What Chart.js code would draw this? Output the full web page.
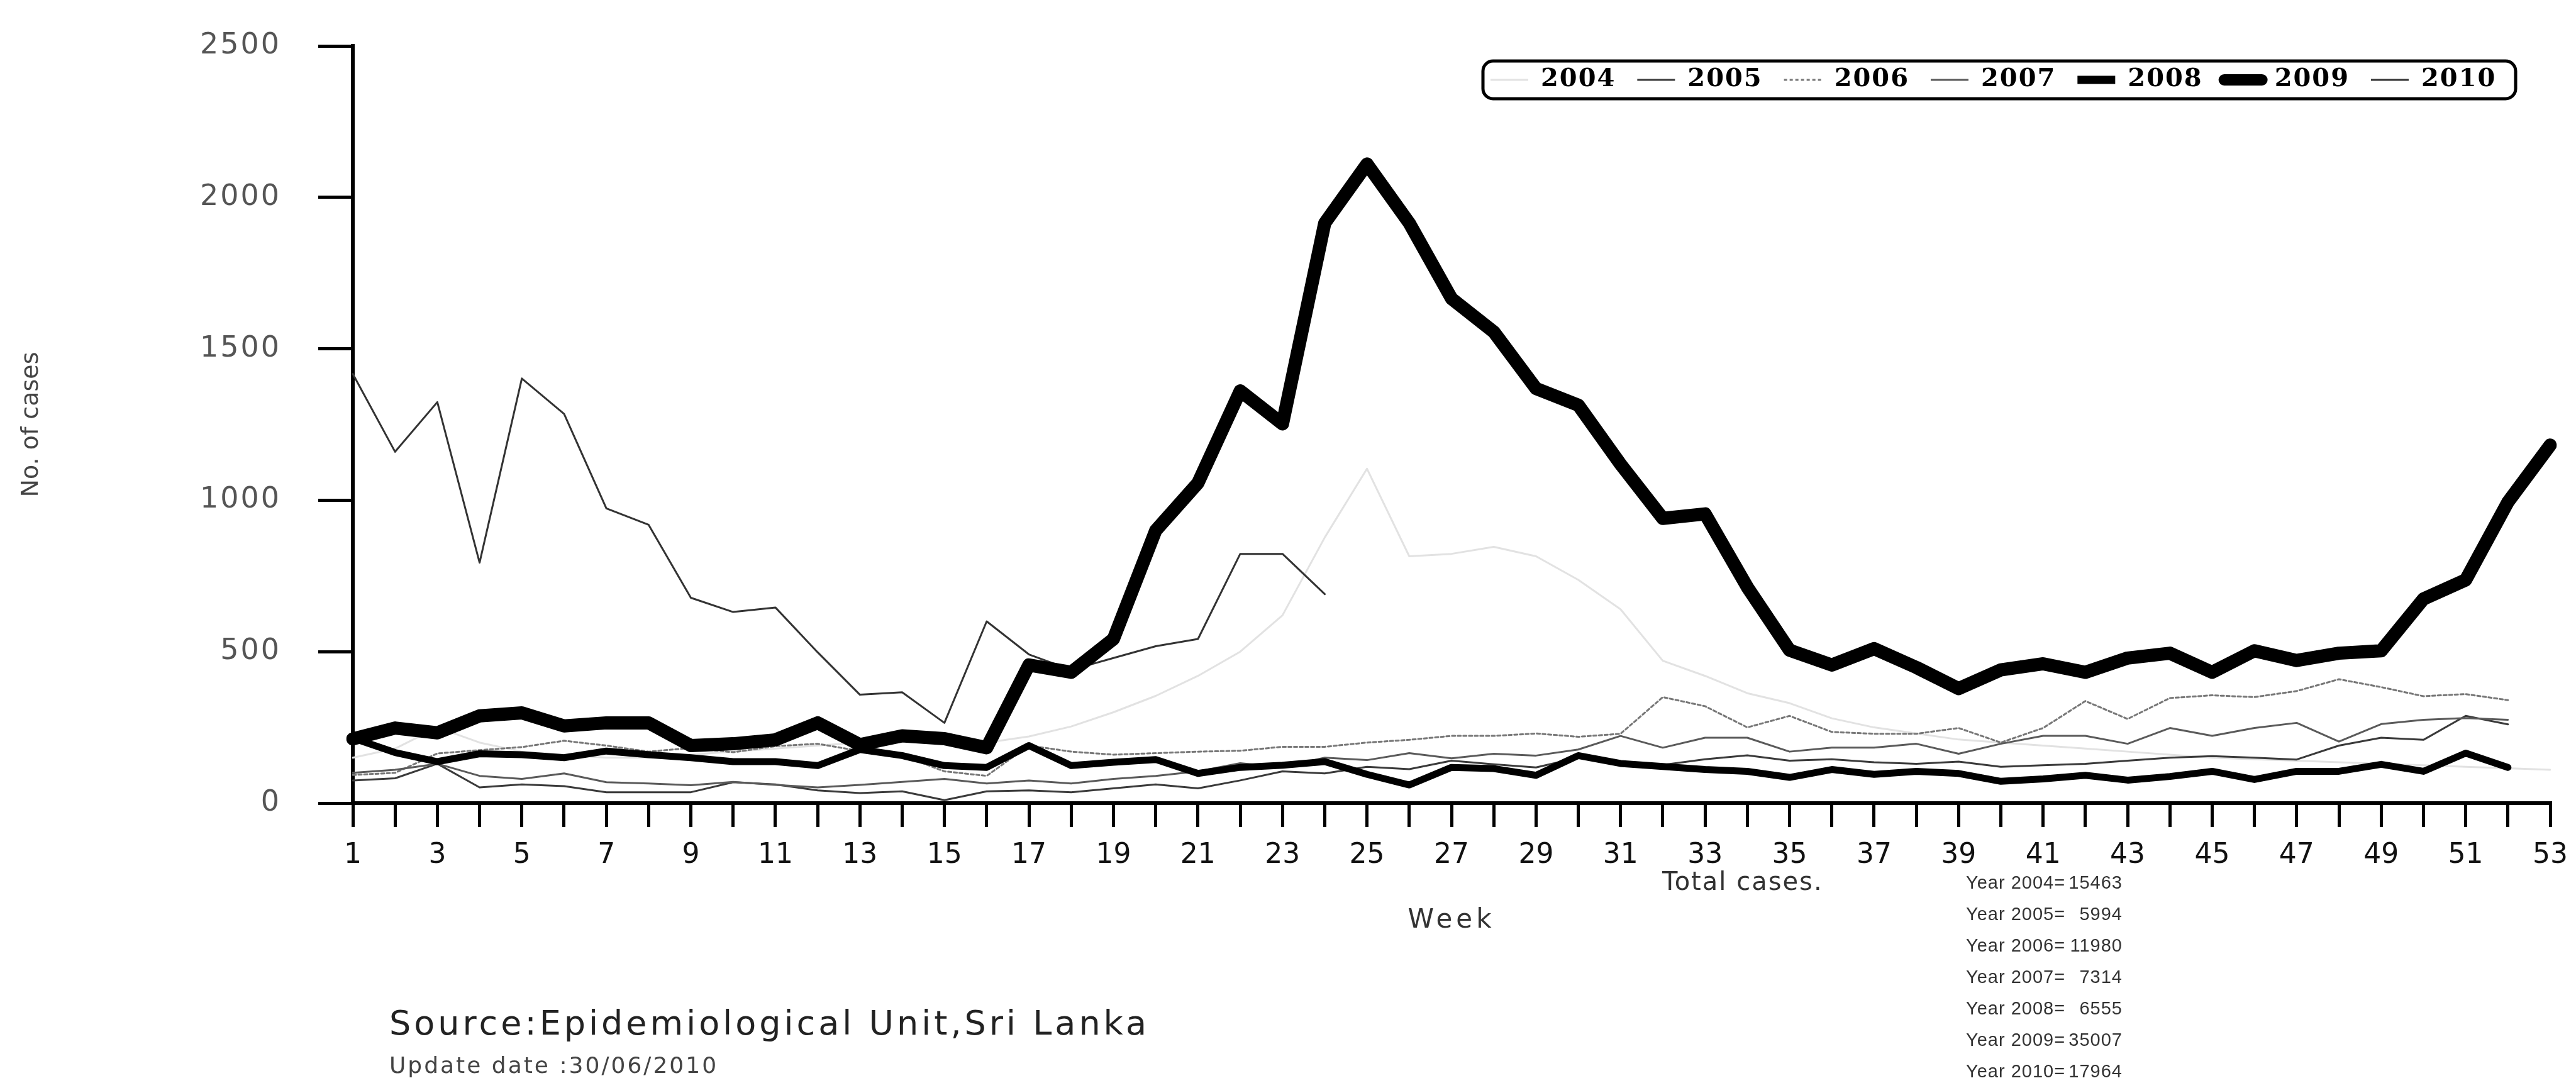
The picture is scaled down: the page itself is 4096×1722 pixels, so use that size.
<!DOCTYPE html>
<html>
  <head>
    <title>Dengue cases by week, Sri Lanka</title>
    <script src="https://cdn.jsdelivr.net/npm/chart.js"></script>
    <style>
      body { margin: 0; background: #ffffff; }
      canvas { display: block; }
    </style>
  </head>
  <body>
    <canvas id="myChart" width="4096" height="1722"></canvas>
    <script>
      var weeks = ["1", "2", "3", "4", "5", "6", "7", "8", "9", "10",
        "11", "12", "13", "14", "15", "16", "17", "18", "19", "20",
        "21", "22", "23", "24", "25", "26", "27", "28", "29", "30",
        "31", "32", "33", "34", "35", "36", "37", "38", "39", "40",
        "41", "42", "43", "44", "45", "46", "47", "48", "49", "50",
        "51", "52", "53"];
      var years = ["2004", "2005", "2006", "2007", "2008", "2009", "2010"];

      // weekly cases
      var cases2004 = [150, 180, 250, 200, 170, 160, 150, 150, 160, 170,
        180, 190, 200, 210, 220, 200, 220, 253, 300, 354,
        420, 500, 620, 877, 1104, 815, 823, 846, 815, 737,
        640, 470, 420, 363, 330, 280, 250, 230, 210, 200,
        190, 180, 170, 160, 150, 145, 140, 135, 130, 125,
        120, 115, 110];
      var cases2005 = [75, 82, 130, 52, 62, 56, 36, 36, 36, 69,
        62, 42, 33, 39, 10, 39, 42, 36, 49, 62,
        49, 75, 105, 98, 120, 112, 140, 128, 118, 150,
        136, 126, 145, 158, 140, 145, 135, 130, 137, 120,
        125, 130, 140, 150, 155, 150, 144, 190, 216, 209,
        288, 260];
      var cases2006 = [93, 100, 164, 175, 185, 206, 190, 170, 182, 168,
        188, 196, 172, 157, 105, 90, 190, 170, 160, 165,
        170, 173, 186, 186, 200, 209, 222, 222, 230, 219,
        229, 350, 320, 250, 288, 235, 229, 229, 248, 200,
        248, 337, 278, 347, 356, 350, 370, 409, 383, 353,
        360, 340];
      var cases2007 = [100, 110, 130, 90, 80, 98, 69, 65, 59, 70,
        60, 52, 60, 70, 80, 65, 75, 65, 80, 90,
        105, 132, 118, 150, 142, 165, 148, 163, 157, 177,
        222, 183, 216, 216, 170, 183, 183, 196, 163, 196,
        222, 222, 196, 248, 222, 248, 265, 203, 261, 275,
        281, 275];
      var cases2008 = [215, 167, 137, 163, 160, 150, 172, 160, 150, 137,
        137, 124, 177, 157, 124, 118, 190, 124, 135, 144,
        98, 118, 125, 137, 95, 60, 118, 114, 92, 157,
        131, 121, 111, 105, 85, 111, 95, 105, 98, 72,
        80, 92, 76, 88, 105, 78, 105, 105, 128, 105,
        165, 118];
      var cases2009 = [212, 248, 232, 288, 298, 255, 265, 265, 190, 196,
        209, 265, 193, 222, 213, 183, 456, 432, 542, 900,
        1057, 1361, 1252, 1915, 2110, 1915, 1666, 1556, 1369, 1314,
        1119, 940, 955, 713, 505, 456, 510, 448, 378, 440,
        460, 432, 479, 495, 432, 503, 471, 495, 503, 674,
        737, 994, 1182];
      var cases2010 = [1417, 1160, 1324, 794, 1402, 1285, 973, 919, 678, 631,
        646, 498, 358, 366, 265, 600, 491, 440, 479, 518,
        542, 823, 823, 690];

      var yearTotals = [15463, 5994, 11980, 7314, 6555, 35007, 17964];
      var yTicks = [0, 500, 1000, 1500, 2000, 2500];
      var sourceNote = "Source:Epidemiological Unit,Sri Lanka";
      var updateNote = "Update date :30/06/2010";

      var series = [cases2004, cases2005, cases2006, cases2007, cases2008, cases2009, cases2010];
      var looks = [
        { color: "#e2e2e2", width: 3, dash: [], order: 9, key: 3 },
        { color: "#3a3a3a", width: 3, dash: [], order: 5, key: 3 },
        { color: "#777777", width: 3, dash: [5, 4], order: 6, key: 3 },
        { color: "#5a5a5a", width: 3, dash: [], order: 4, key: 3 },
        { color: "#000000", width: 11, dash: [], order: 1, key: 13 },
        { color: "#000000", width: 21, dash: [], order: 0, key: 18 },
        { color: "#333333", width: 3, dash: [], order: 3, key: 3 }
      ];

      var datasets = years.map(function (y, i) {
        return {
          label: y,
          data: series[i],
          borderColor: looks[i].color,
          backgroundColor: looks[i].color,
          borderWidth: looks[i].width,
          borderDash: looks[i].dash,
          borderJoinStyle: "round",
          borderCapStyle: "round",
          pointRadius: 0,
          pointHoverRadius: 0,
          tension: 0,
          fill: false,
          order: looks[i].order
        };
      });

      var FONT = '"DejaVu Sans", sans-serif';
      Chart.defaults.font.family = FONT;
      Chart.defaults.color = "#111";

      function spaced(target, name, px) {
        if (!target || target["_sp_" + name]) return;
        var original = target[name];
        target[name] = function () {
          var c = this.ctx;
          c.save();
          c.letterSpacing = px + "px";
          var out = original.apply(this, arguments);
          c.restore();
          return out;
        };
        target["_sp_" + name] = true;
      }

      function frame(ctx, x, y, w, h, r) {
        ctx.beginPath();
        ctx.moveTo(x + r, y);
        ctx.arcTo(x + w, y, x + w, y + h, r);
        ctx.arcTo(x + w, y + h, x, y + h, r);
        ctx.arcTo(x, y + h, x, y, r);
        ctx.arcTo(x, y, x + w, y, r);
        ctx.closePath();
      }

      var sheet = {
        id: "sheet",
        beforeLayout: function (chart) {
          var lg = chart.legend;
          if (lg && !lg._patched) {
            var fit = lg.fit;
            lg.fit = function () {
              var c = this.ctx;
              c.save();
              c.letterSpacing = "2px";
              fit.apply(this, arguments);
              c.restore();
              this.height = 0; // legend floats over the plot
            };
            spaced(lg, "draw", 2);
            lg._patched = true;
          }
          spaced(chart.scales.x, "drawTitle", 6);
          spaced(chart.scales.y, "drawLabels", 3);
        },
        afterLayout: function (chart) {
          var lg = chart.legend;
          lg.left = 2336;
          lg.right = 4096;
          lg.top = 73;
          lg.bottom = 190;
          spaced(chart.scales.x, "drawTitle", 6);
          spaced(chart.scales.y, "drawLabels", 3);
        },
        afterDraw: function (chart) {
          var ctx = chart.ctx;
          ctx.save();
          frame(ctx, 2358, 97, 1642, 60, 16);
          ctx.lineWidth = 5;
          ctx.strokeStyle = "#000";
          ctx.stroke();

          ctx.textBaseline = "alphabetic";
          ctx.textAlign = "left";
          ctx.fillStyle = "#222";
          ctx.font = "54px " + FONT;
          ctx.letterSpacing = "5px";
          ctx.fillText(sourceNote, 619, 1645);

          ctx.fillStyle = "#444";
          ctx.font = "36px " + FONT;
          ctx.letterSpacing = "3px";
          ctx.fillText(updateNote, 619, 1706);

          ctx.fillStyle = "#333";
          ctx.font = "40px " + FONT;
          ctx.letterSpacing = "2px";
          ctx.fillText("Total cases.", 2643, 1415);

          ctx.font = '29px "Liberation Sans", Arial, sans-serif';
          ctx.letterSpacing = "1px";
          for (var i = 0; i < years.length; i++) {
            var y = 1413 + i * 50;
            ctx.textAlign = "left";
            ctx.fillText("Year " + years[i] + "=", 3126, y);
            ctx.textAlign = "right";
            ctx.fillText(String(yearTotals[i]), 3375, y);
          }
          ctx.restore();
        }
      };

      var ctx = document.getElementById("myChart").getContext("2d");
      var myChart = new Chart(ctx, {
        type: "line",
        data: { labels: weeks, datasets: datasets },
        plugins: [sheet],
        options: {
          responsive: false,
          animation: false,
          devicePixelRatio: 1,
          layout: { padding: { top: 73, right: 41, bottom: 0, left: 0 } },
          plugins: {
            tooltip: { enabled: false },
            legend: {
              position: "top",
              align: "start",
              labels: {
                usePointStyle: true,
                pointStyle: "line",
                pointStyleWidth: 60,
                padding: 34,
                color: "#000",
                font: { family: '"DejaVu Serif", serif', size: 40, weight: "bold" },
                generateLabels: function (chart) {
                  return chart.data.datasets.map(function (ds, i) {
                    return {
                      text: ds.label,
                      fillStyle: ds.borderColor,
                      strokeStyle: ds.borderColor,
                      lineWidth: looks[i].key,
                      lineDash: ds.borderDash,
                      lineCap: i === 5 ? "round" : "butt",
                      pointStyle: "line",
                      fontColor: "#000",
                      hidden: false,
                      datasetIndex: i
                    };
                  });
                }
              }
            }
          },
          scales: {
            x: {
              type: "category",
              offset: false,
              grid: { display: true, drawOnChartArea: false, tickLength: 38, lineWidth: 5, color: "#000", offset: false },
              border: { display: true, color: "#000", width: 6 },
              ticks: {
                autoSkip: false,
                maxRotation: 0,
                minRotation: 0,
                padding: 19,
                color: "#111",
                font: { size: 44 },
                callback: function (v, i) {
                  return i % 2 === 0 ? this.getLabelForValue(v) : "";
                }
              },
              title: {
                display: true,
                text: "Week",
                color: "#333",
                font: { size: 42 },
                padding: { top: 0, bottom: 233 }
              },
              afterFit: function (s) {
                s.height = 445;
                s.paddingLeft = 0;
                s.paddingRight = 0;
              }
            },
            y: {
              min: yTicks[0],
              max: yTicks[yTicks.length - 1],
              grid: { display: true, drawOnChartArea: false, tickLength: 55, lineWidth: 5, color: "#000" },
              border: { display: true, color: "#000", width: 6 },
              ticks: {
                stepSize: yTicks[1] - yTicks[0],
                padding: 59,
                color: "#555",
                font: { size: 46 },
                callback: function (v) { return String(v); }
              },
              title: {
                display: true,
                text: "No. of cases",
                color: "#444",
                font: { size: 38 },
                padding: { top: 27, bottom: 0 }
              },
              afterFit: function (s) {
                s.width = 561;
                s.paddingTop = 0;
                s.paddingBottom = 0;
              }
            }
          }
        }
      });
    </script>
  </body>
</html>
